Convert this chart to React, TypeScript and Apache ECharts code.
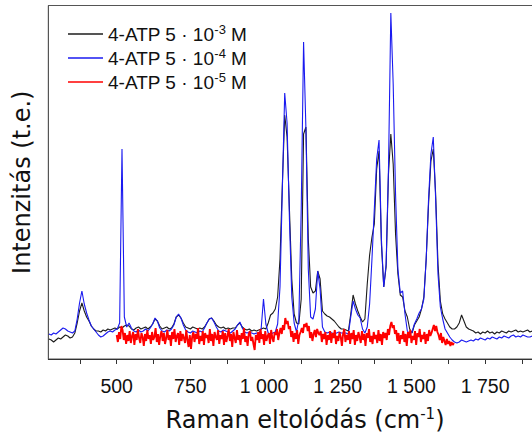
import React, { useEffect, useRef } from "react";
import * as echarts from "echarts";

// Sampling grid of the two full spectra (cm-1)
const FULL_START = 270;
const FULL_STEP = 8;
// Sampling grid of the 5·10-5 M spectrum (cm-1)
const LOW_START = 500;
const LOW_STEP = 4;

const SERIES_NAMES = ["4-ATP 5 · 10-3 M", "4-ATP 5 · 10-4 M", "4-ATP 5 · 10-5 M"];
const SERIES_EXP = ["-3", "-4", "-5"];
const SERIES_COLORS = ["#1c1c1c", "#1a1af0", "#ff0000"];

// intensity (arbitrary units)
const black = [
  20, 19, 17, 19, 21, 20, 22, 24, 23, 21, 22, 26, 36, 48, 56, 48, 42, 38, 33, 30,
  28, 28, 27, 29, 28, 30, 29, 30, 31, 30, 32, 31, 33, 34, 33, 30, 29, 31, 32, 30,
  31, 32, 30, 32, 35, 40, 38, 33, 30, 31, 32, 30, 31, 35, 42, 44, 41, 36, 32, 31,
  30, 32, 31, 30, 31, 30, 32, 36, 40, 41, 38, 34, 32, 31, 32, 30, 31, 30, 31, 31,
  34, 36, 32, 30, 29, 30, 28, 29, 28, 29, 30, 31, 30, 36, 44, 46, 50, 62, 100, 175,
  244, 222, 150, 80, 45, 36, 35, 60, 225, 232, 120, 72, 66, 68, 88, 80, 48, 45, 43, 42,
  40, 38, 35, 32, 30, 30, 29, 28, 45, 64, 55, 48, 42, 37, 40, 75, 104, 122, 135, 190,
  208, 115, 72, 92, 185, 225, 195, 125, 85, 64, 62, 48, 42, 30, 26, 34, 38, 42, 50, 62,
  100, 155, 198, 210, 165, 95, 58, 45, 40, 36, 32, 30, 30, 32, 36, 44, 38, 32, 30, 29,
  28, 26, 27, 25, 27, 26, 28, 26, 27, 25, 27, 26, 28, 27, 26, 28, 27, 28, 29, 27,
  28, 27, 28, 29, 27, 28,
];

const blue = [
  25, 24, 26, 25, 27, 29, 31, 30, 28, 27, 26, 28, 40, 56, 68, 55, 46, 39, 33, 30,
  27, 24, 22, 23, 25, 27, 28, 27, 29, 30, 36, 210, 42, 32, 36, 31, 28, 27, 29, 27,
  28, 30, 28, 31, 35, 41, 38, 31, 28, 27, 29, 28, 30, 34, 42, 45, 41, 34, 29, 27,
  26, 28, 27, 26, 28, 27, 31, 36, 40, 41, 37, 32, 28, 27, 29, 28, 27, 26, 28, 30,
  34, 37, 31, 27, 26, 27, 26, 25, 26, 25, 30, 60, 35, 26, 25, 26, 27, 35, 72, 170,
  266, 236, 140, 62, 36, 27, 40, 150, 317, 230, 90, 42, 40, 50, 88, 70, 32, 27, 26, 27,
  26, 25, 26, 27, 26, 26, 26, 25, 42, 58, 50, 44, 41, 30, 26, 32, 55, 100, 150, 200,
  219, 120, 72, 95, 190, 346, 275, 165, 90, 66, 68, 45, 28, 25, 27, 35, 40, 46, 50, 60,
  100, 160, 205, 222, 160, 85, 52, 40, 30, 26, 22, 19, 17, 16, 17, 19, 18, 17, 18, 19,
  18, 20, 19, 21, 20, 19, 21, 20, 22, 21, 20, 22, 21, 23, 22, 21, 23, 24, 22, 23,
  22, 24, 23, 22, 22, 23,
];

const red = [
  24, 17, 27, 20, 33, 29, 19, 26, 15, 24, 18, 28, 16, 23, 27, 14, 25, 19, 30, 21,
  16, 26, 22, 13, 25, 18, 29, 20, 24, 15, 27, 19, 22, 31, 17, 25, 14, 23, 28, 18,
  26, 15, 21, 29, 19, 24, 13, 27, 20, 30, 17, 23, 26, 14, 28, 18, 25, 21, 16, 29,
  19, 12, 24, 10, 22, 27, 17, 25, 20, 31, 15, 23, 18, 28, 14, 26, 21, 24, 16, 30,
  18, 25, 13, 27, 22, 19, 29, 15, 24, 20, 28, 14, 26, 17, 23, 30, 18, 25, 12, 27,
  21, 16, 29, 19, 24, 14, 26, 20, 31, 17, 23, 13, 25, 28, 18, 22, 15, 9, 24, 19,
  27, 16, 30, 20, 25, 14, 28, 18, 23, 26, 15, 29, 21, 17, 27, 24, 30, 19, 26, 31,
  25, 34, 29, 41, 35, 38, 30, 33, 22, 28, 17, 26, 20, 29, 15, 24, 27, 31, 26, 35,
  32, 36, 28, 33, 21, 27, 18, 25, 29, 22, 30, 26, 24, 28, 17, 25, 20, 27, 14, 24,
  19, 28, 16, 26, 21, 29, 15, 23, 18, 27, 22, 13, 25, 30, 17, 24, 19, 28, 15, 26,
  20, 29, 14, 24, 18, 27, 22, 16, 28, 19, 25, 13, 26, 21, 30, 17, 23, 15, 27, 20,
  24, 16, 29, 18, 25, 14, 27, 21, 26, 19, 30, 24, 33, 37, 31, 34, 25, 29, 18, 26,
  15, 24, 20, 28, 17, 25, 13, 27, 21, 29, 16, 23, 19, 28, 14, 26, 22, 30, 17, 24,
  20, 27, 15, 25, 18, 29, 23, 26, 30, 34, 28, 33, 27, 24, 19, 26, 16, 22, 18, 14,
  20, 15, 18, 13, 17, 14, 16,
];

const TICK_VALUES = [375, 500, 625, 750, 875, 1000, 1125, 1250, 1375, 1500, 1625, 1750, 1875];
const LABEL_VALUES = [500, 750, 1000, 1250, 1500, 1750];
const LABEL_TEXTS = ["500", "750", "1 000", "1 250", "1 500", "1 750"];

const FONT = "'Liberation Sans', Arial, sans-serif";
const TITLE_FONT = "'DejaVu Sans', 'Liberation Sans', sans-serif";

function toPairs(start: number, step: number, values: number[]) {
  return values.map((v, i) => [start + i * step, v]);
}

export default function App() {
  const ref = useRef<HTMLDivElement>(null);
  useEffect(() => {
    if (!ref.current) return;
    const chart = echarts.init(ref.current, null, { renderer: "svg" });
    const datasets = [
      toPairs(FULL_START, FULL_STEP, black),
      toPairs(FULL_START, FULL_STEP, blue),
      toPairs(LOW_START, LOW_STEP, red),
    ];
    const widths = [1.1, 1.1, 1.9];
    chart.setOption({
      animation: false,
      grid: {
        left: 48.3,
        top: 5.5,
        width: 513.5,
        height: 353.5,
        show: true,
        borderColor: "#555",
        borderWidth: 1,
      },
      legend: {
        orient: "vertical",
        left: 63,
        top: 18,
        itemWidth: 35,
        itemHeight: 1.6,
        itemGap: 3.5,
        icon: "rect",
        selectedMode: false,
        data: SERIES_NAMES,
        formatter: (name: string) => {
          const k = SERIES_NAMES.indexOf(name);
          return `{t|4-ATP 5 · 10}{s|${SERIES_EXP[k]}}{t| M}`;
        },
        textStyle: {
          fontFamily: FONT,
          color: "#111",
          rich: {
            t: { fontSize: 19, lineHeight: 22, fontFamily: FONT, color: "#111" },
            s: { fontSize: 13, lineHeight: 13, verticalAlign: "top", fontFamily: FONT, color: "#111" },
          },
        },
      },
      xAxis: {
        type: "value",
        min: 268,
        max: 2010,
        axisLine: { show: true, lineStyle: { color: "#333", width: 1 } },
        axisTick: {
          show: true,
          customValues: TICK_VALUES,
          length: 5,
          inside: false,
          lineStyle: { color: "#333" },
        },
        axisLabel: {
          customValues: LABEL_VALUES,
          formatter: (v: number) => {
            const k = LABEL_VALUES.indexOf(v);
            return k >= 0 ? LABEL_TEXTS[k] : "";
          },
          fontSize: 19.5,
          color: "#111",
          fontFamily: FONT,
          margin: 17,
        },
        splitLine: { show: false },
        name: "{a|Raman eltolódás (cm}{s|-1}{a|)}",
        nameLocation: "middle",
        nameGap: 47,
        nameTextStyle: {
          rich: {
            a: { fontSize: 24, lineHeight: 27, fontFamily: TITLE_FONT, color: "#111" },
            s: { fontSize: 15, lineHeight: 15, verticalAlign: "top", fontFamily: TITLE_FONT, color: "#111" },
          },
        },
      },
      yAxis: {
        type: "value",
        min: 0,
        max: 353.5,
        axisLine: { show: true, lineStyle: { color: "#555", width: 1 } },
        axisTick: { show: false },
        axisLabel: { show: false },
        splitLine: { show: false },
        name: "Intenzitás (t.e.)",
        nameLocation: "middle",
        nameGap: 14,
        nameTextStyle: { fontSize: 24, fontFamily: TITLE_FONT, color: "#111" },
      },
      series: SERIES_NAMES.map((name, k) => ({
        name,
        type: "line",
        data: datasets[k],
        showSymbol: false,
        symbol: "none",
        lineStyle: { color: SERIES_COLORS[k], width: widths[k] },
        itemStyle: { color: SERIES_COLORS[k] },
        silent: true,
      })),
    });
    return () => chart.dispose();
  }, []);
  return (
    <div
      style={{
        position: "fixed",
        left: 0,
        top: 0,
        width: 532,
        height: 437,
        overflow: "hidden",
        background: "#fff",
      }}
    >
      <div ref={ref} style={{ width: 600, height: 437 }} />
    </div>
  );
}
